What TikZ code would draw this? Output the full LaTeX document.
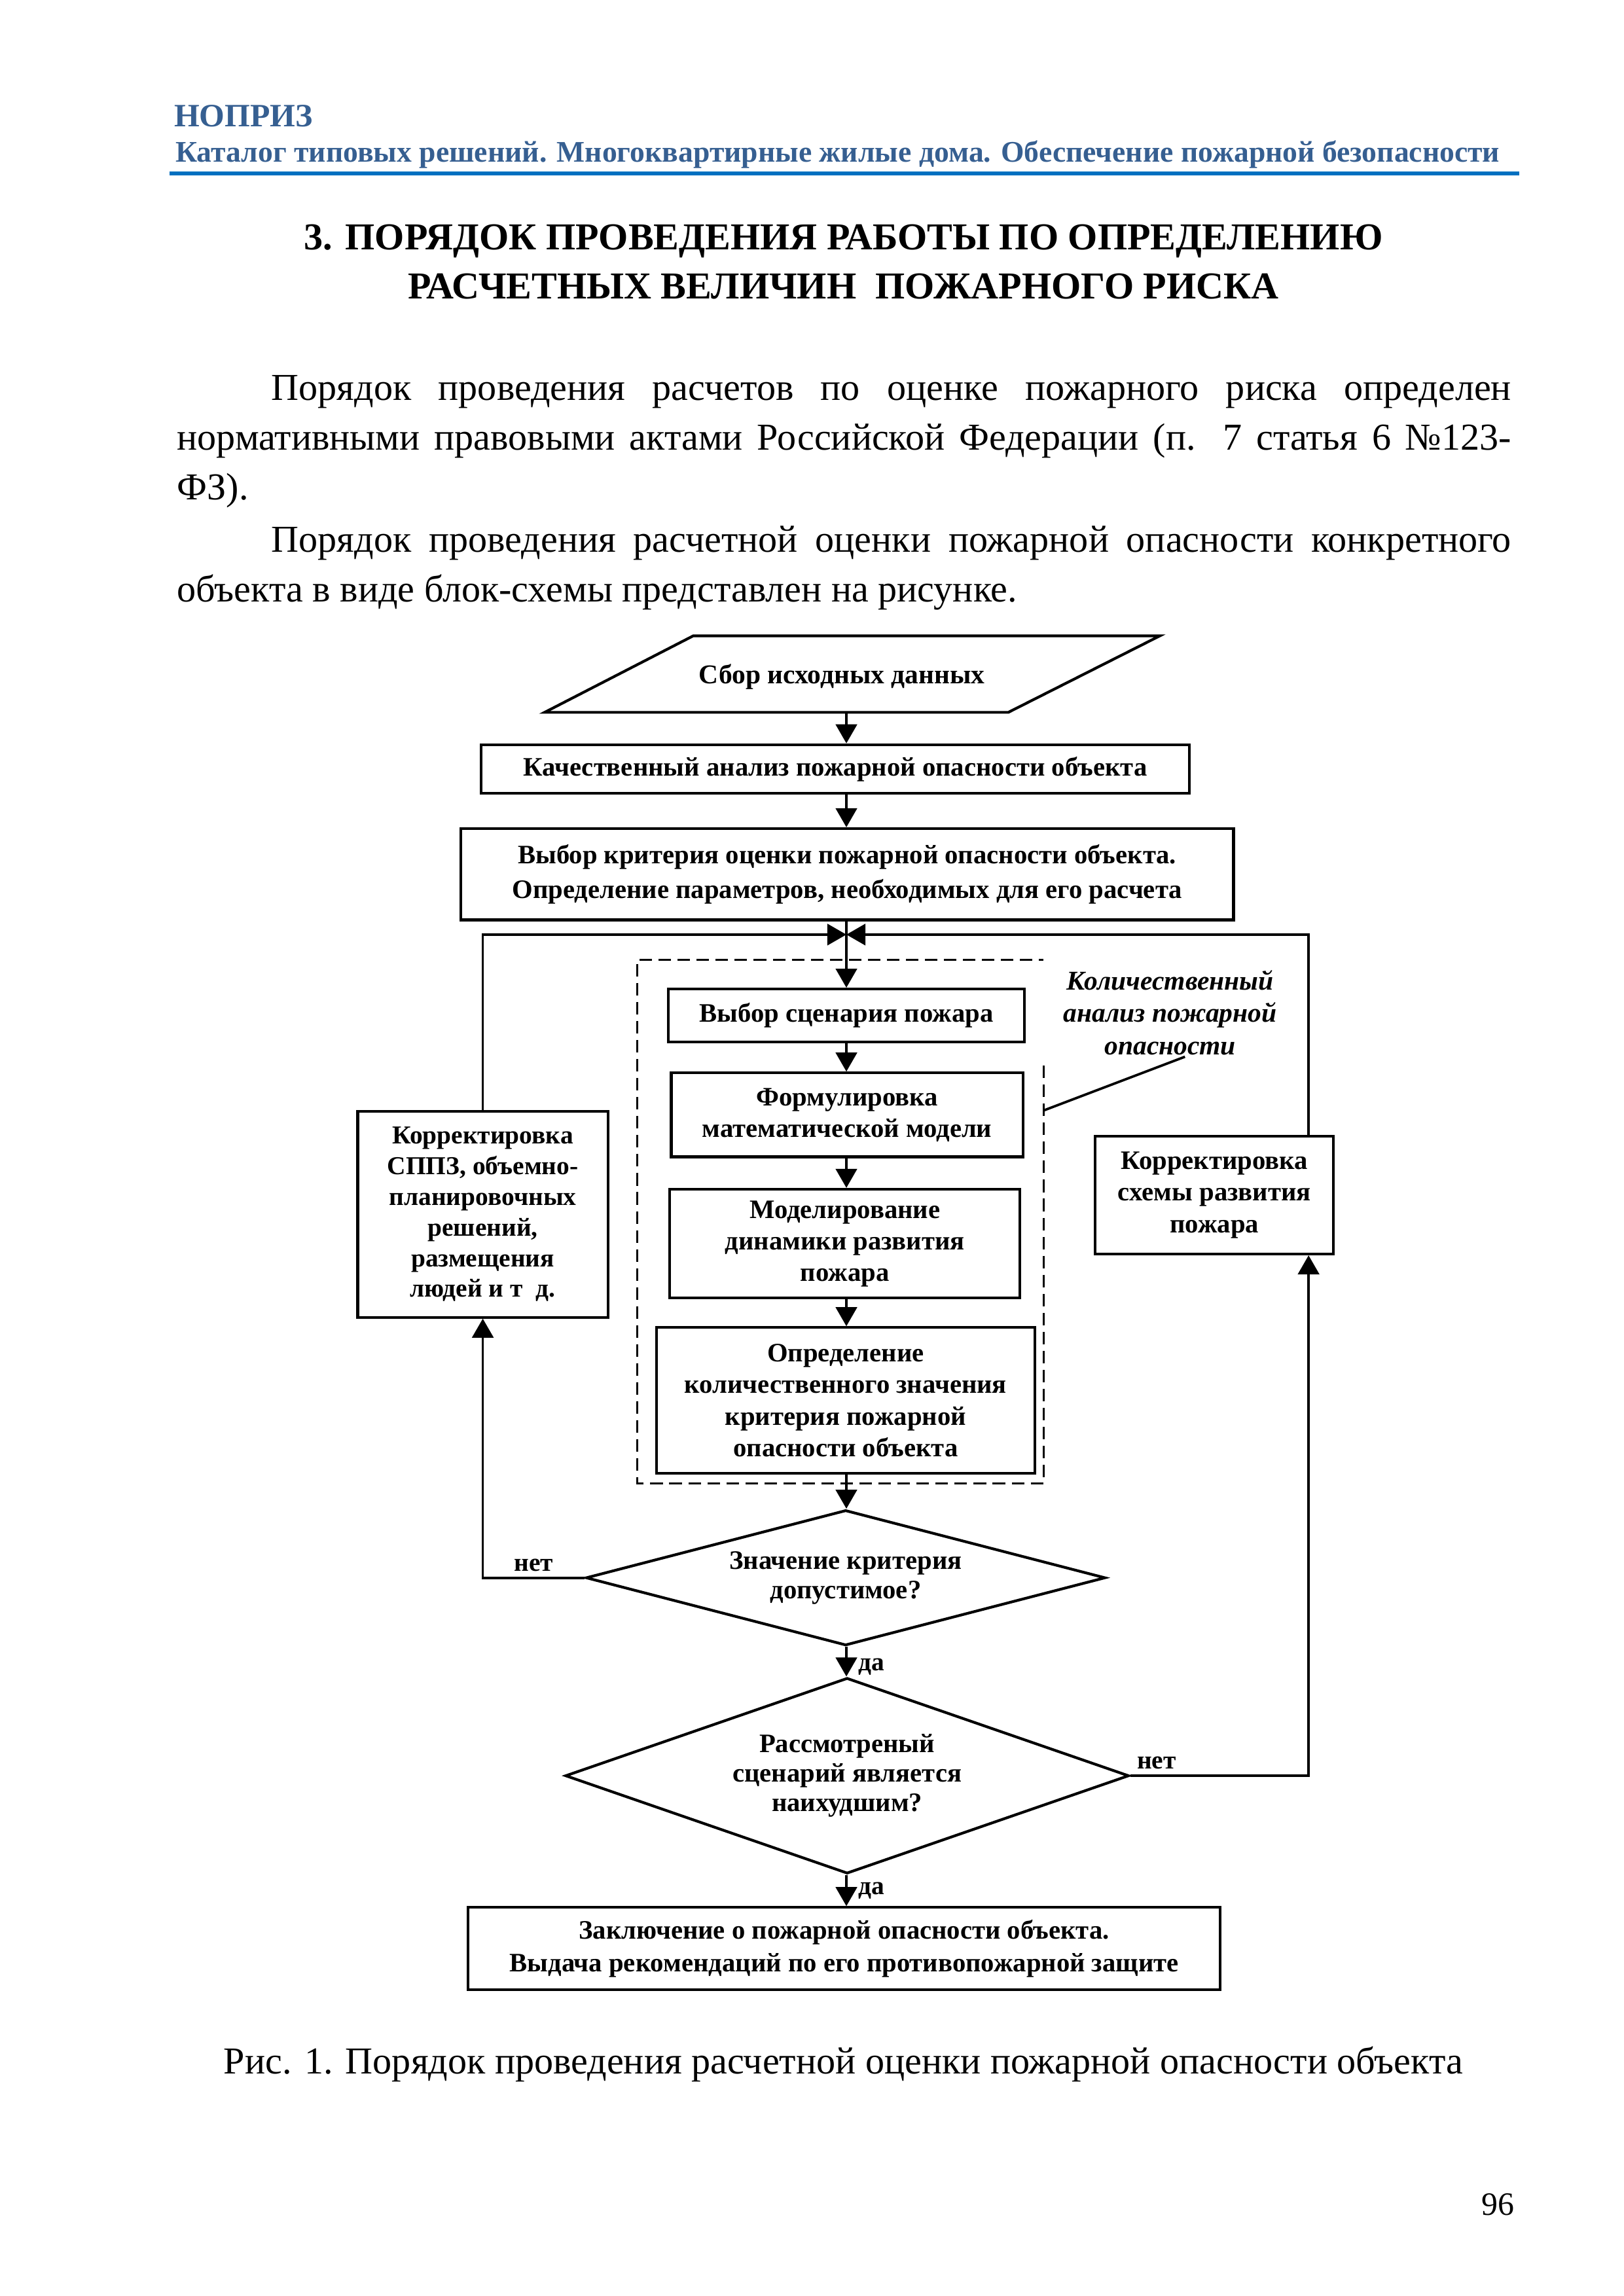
\documentclass[tikz,border=0pt]{standalone}
\usepackage{fontspec}
\setmainfont{Liberation Serif}
\usetikzlibrary{shapes.geometric, arrows.meta, positioning, calc}
\definecolor{nopblue}{RGB}{54,95,145}
\definecolor{noprule}{RGB}{0,112,192}
\newlength{\dpx}
\setlength{\dpx}{0.19039mm}

\begin{document}
\begin{tikzpicture}[x=0.19039mm, y=-0.19039mm,
    blk/.style={draw, rectangle, line width=1pt, align=center, inner sep=1pt,
                font=\fontsize{9.8}{11.6}\selectfont\bfseries},
    dec/.style={draw, diamond, line width=1pt, align=center, inner sep=0pt,
                font=\fontsize{9.8}{10.8}\selectfont\bfseries},
    arw/.style={-{Triangle[length=7pt, width=7.8pt]}, line width=0.9pt},
    lnk/.style={line width=0.9pt},
    dashbox/.style={line width=0.8pt, dash pattern=on 4.6pt off 2.4pt},
    lbl/.style={font=\fontsize{9.5}{11}\selectfont\bfseries, inner sep=2pt},
    note/.style={align=center, font=\fontsize{10}{11.9}\selectfont\bfseries\itshape},
    body/.style={anchor=base west, inner sep=0pt, text width=491pt, align=justify,
                 font=\fontsize{14}{18.35}\selectfont}
  ]
    \useasboundingbox (0,0) rectangle (1103,1560);

    % page header
    \node[anchor=base west, inner sep=0pt, text=nopblue,
          font=\fontsize{12}{14}\selectfont\bfseries] (org) at (118,86) {НОПРИЗ};
    \node[anchor=base west, inner sep=0pt, text=nopblue,
          font=\fontsize{11}{13}\selectfont\bfseries] (cat) at (119,110)
          {Каталог типовых решений. Многоквартирные жилые дома. Обеспечение пожарной безопасности};
    \draw[noprule, line width=1.45pt] (115,117.8) -- (1032,117.8);

    \node[anchor=base, inner sep=0pt, font=\fontsize{14}{18}\selectfont\bfseries] (ttl1) at (573,169.5)
          {3. ПОРЯДОК ПРОВЕДЕНИЯ РАБОТЫ ПО ОПРЕДЕЛЕНИЮ};
    \node[anchor=base, inner sep=0pt, font=\fontsize{14}{18}\selectfont\bfseries] (ttl2) at (573,203)
          {РАСЧЕТНЫХ ВЕЛИЧИН\ \ ПОЖАРНОГО РИСКА};

    \node[body] (par1) at (120,272)
          {\hspace*{12.2mm}Порядок проведения расчетов по оценке пожарного риска определен\linebreak
           нормативными правовыми актами Российской Федерации (п. 7 статья 6 №123-\linebreak ФЗ).};
    \node[body] (par2) at (120,375)
          {\hspace*{12.2mm}Порядок проведения расчетной оценки пожарной опасности конкретного\linebreak
           объекта в виде блок-схемы представлен на рисунке.};

    % flowchart
    \coordinate (ax) at (575,0);
    \coordinate (jn) at (575,635);
    \coordinate (rx) at (889,635);

    \draw[line width=1pt] (471,432) -- (788,432) -- (685,484) -- (370,484) -- cycle;
    \node[inner sep=0pt, minimum height=48\dpx, font=\fontsize{10}{11.6}\selectfont\bfseries]
          (data) at (572,460) {Сбор исходных данных};
    \node[blk, minimum width=481\dpx, minimum height=33\dpx] (qual) at (567.5,522.5)
          {Качественный анализ пожарной опасности объекта};
    \node[blk, minimum width=525\dpx, minimum height=62\dpx,
          font=\fontsize{9.8}{12.6}\selectfont\bfseries] (crit) at (575.5,594)
          {Выбор критерия оценки пожарной опасности объекта.\\
           Определение параметров, необходимых для его расчета};

    \node[blk, minimum width=242\dpx, minimum height=36\dpx] (scen) at (575,690) {Выбор сценария пожара};
    \node[blk, minimum width=239\dpx, minimum height=57\dpx] (form) at (575.5,757.5)
          {Формулировка\\математической модели};
    \node[blk, minimum width=238\dpx, minimum height=74\dpx] (mod) at (574,845)
          {Моделирование\\динамики развития\\пожара};
    \node[blk, minimum width=257\dpx, minimum height=99\dpx] (det) at (574.5,951.5)
          {Определение\\количественного значения\\критерия пожарной\\опасности объекта};

    \draw[dashbox] (709,724) |- (433,1008) |- (709,652);
    \node[note] (qnote) at (795,688) {Количественный\\анализ пожарной\\опасности};
    \coordinate (qa) at (805,718);
    \coordinate (qb) at (709,754.5);
    \draw[lnk] (qa) -- (qb);

    \node[dec, aspect=3.84, minimum width=353\dpx, minimum height=92\dpx] (dia1) at (574.5,1072)
          {Значение критерия\\допустимое?};
    \node[dec, aspect=2.88, minimum width=383\dpx, minimum height=133\dpx] (dia2) at (575.5,1206.5)
          {Рассмотреный\\сценарий является\\наихудшим?};
    \node[blk, minimum width=511\dpx, minimum height=56\dpx,
          font=\fontsize{9.8}{11.9}\selectfont\bfseries] (concl) at (573.5,1324)
          {Заключение о пожарной опасности объекта.\\
           Выдача рекомендаций по его противопожарной защите};

    \node[blk, minimum width=170\dpx, minimum height=140\dpx,
          font=\fontsize{9.5}{11.3}\selectfont\bfseries] (corrL) at (328,825)
          {Корректировка\\СППЗ, объемно-\\планировочных\\решений,\\размещения\\людей и т\ \ д.};
    \node[blk, minimum width=162\dpx, minimum height=80\dpx] (corrR) at (825,812)
          {Корректировка\\схемы развития\\пожара};

    \draw[arw] (data.south -| ax) -- (qual.north -| ax);
    \draw[arw] (qual.south -| ax) -- (crit.north -| ax);
    \draw[arw] (crit.south -| ax) -- (scen.north -| ax);
    \draw[arw] (scen.south -| ax) -- (form.north -| ax);
    \draw[arw] (form.south -| ax) -- (mod.north -| ax);
    \draw[arw] (mod.south -| ax) -- (det.north -| ax);
    \draw[arw] (det.south -| ax) -- (dia1.north -| ax);
    \draw[arw] (dia1.south -| ax) -- (dia2.north -| ax)
          node[midway, right, lbl, xshift=2pt, yshift=-2pt] {да};
    \draw[arw] (dia2.south -| ax) -- (concl.north -| ax)
          node[midway, right, lbl, xshift=2pt] {да};

    \draw[arw] (dia1.west) -| (corrL.south) node[pos=0.25, above, lbl] {нет};
    \draw[arw] (corrL.north) |- (jn);
    \draw[arw] (dia2.east) node[above right, lbl] {нет} -| (corrR.south -| rx);
    \draw[arw] (corrR.north -| rx) |- (jn);

    \node[anchor=base, inner sep=0pt, font=\fontsize{14}{17}\selectfont] (cap) at (573,1409)
          {Рис. 1. Порядок проведения расчетной оценки пожарной опасности объекта};
    \node[anchor=base east, inner sep=0pt, font=\fontsize{12}{14}\selectfont] (pg) at (1029,1505) {96};
  \end{tikzpicture}
\end{document}
